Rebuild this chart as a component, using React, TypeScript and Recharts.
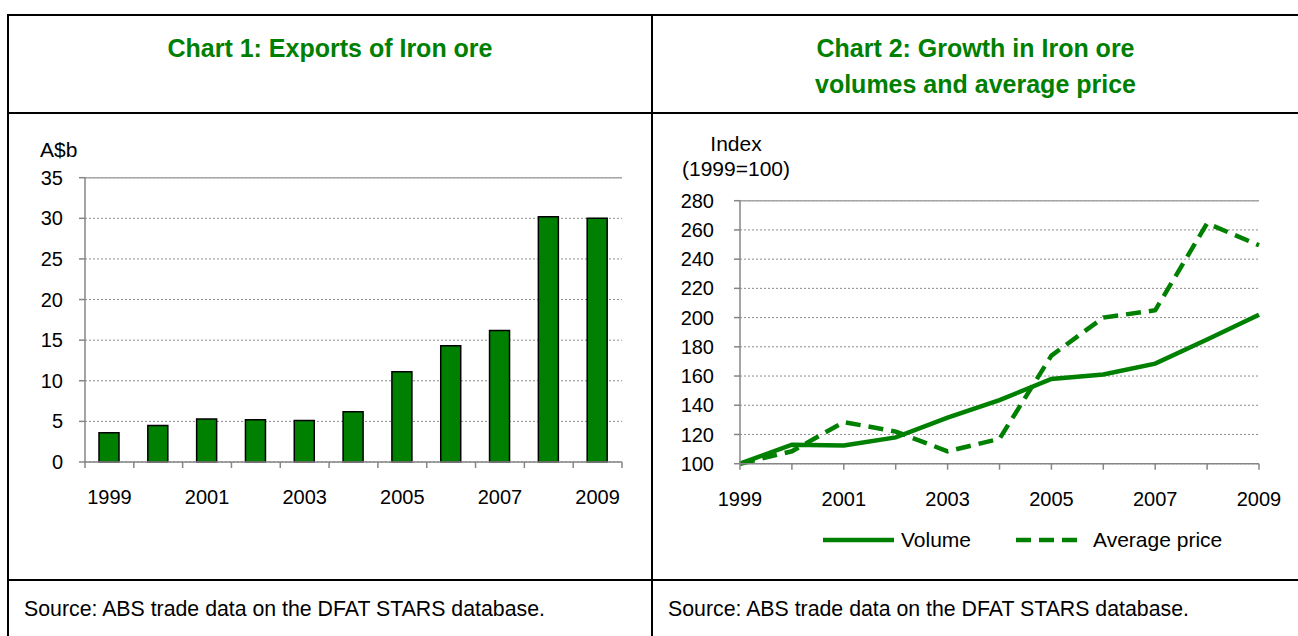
import React from "react";
import {
  BarChart,
  Bar,
  LineChart,
  Line,
  XAxis,
  YAxis,
  CartesianGrid,
  ReferenceLine,
  Legend,
} from "recharts";

const years = [1999, 2000, 2001, 2002, 2003, 2004, 2005, 2006, 2007, 2008, 2009];
const exportsValues = [3.6, 4.5, 5.3, 5.2, 5.1, 6.2, 11.1, 14.3, 16.2, 30.2, 30.0];
const volumeIndex = [100, 113, 112.5, 118, 131.5, 143.5, 158, 161, 168.5, 185, 202];
const priceIndex = [100, 108.5, 128.5, 122, 108.5, 117, 174, 200, 205, 264.5, 249.5];

const exportTicks = [0, 5, 10, 15, 20, 25, 30, 35];
const indexTicks = [100, 120, 140, 160, 180, 200, 220, 240, 260, 280];

const chart1Title = "Chart 1: Exports of Iron ore";
const chart2TitleLines = ["Chart 2: Growth in Iron ore", "volumes and average price"];
const sourceText = "Source: ABS trade data on the DFAT STARS database.";
const unit1 = "A$b";
const unit2Lines = ["Index", "(1999=100)"];
const seriesNames = ["Volume", "Average price"];
const seriesDash = [undefined, "15 8"];

const GREEN = "#008000";
const AXIS = "#868686";
const GRID = "#8c8c8c";
const FONT = "'Liberation Sans', Arial, sans-serif";

const barData = years.map((y, i) => ({ year: y, value: exportsValues[i] }));
const lineData = years.map((y, i) => ({ year: y, volume: volumeIndex[i], price: priceIndex[i] }));
const barXTicks: number[] = [];
years.forEach((y) => {
  barXTicks.push(y - 0.5);
  barXTicks.push(y);
});
barXTicks.push(years[years.length - 1] + 0.5);

const tickFont = { fontSize: 20, fill: "#000", fontFamily: FONT };

const BarXTick = (props: any) => {
  const { x, y, payload } = props;
  const v = payload.value;
  if (!Number.isInteger(v)) {
    return <line x1={x} x2={x} y1={y} y2={y + 6} stroke={AXIS} strokeWidth={1.5} />;
  }
  if ((v - years[0]) % 2 !== 0) return <g />;
  return (
    <text x={x} y={y + 35} textAnchor="middle" dominantBaseline="central" {...tickFont}>
      {v}
    </text>
  );
};

const LineXTick = (props: any) => {
  const { x, y, payload } = props;
  const v = payload.value;
  if ((v - years[0]) % 2 !== 0) return <g />;
  return (
    <text x={x} y={y + 29.5} textAnchor="middle" dominantBaseline="central" {...tickFont}>
      {v}
    </text>
  );
};

const LegendContent = (props: any) => {
  const payload = [...(props.payload || [])].sort(
    (a: any, b: any) => seriesNames.indexOf(a.value) - seriesNames.indexOf(b.value)
  );
  return (
    <div style={{ display: "flex", alignItems: "center", height: 24, fontFamily: FONT, fontSize: 21, color: "#000" }}>
      {payload.map((p: any, i: number) => {
        const idx = seriesNames.indexOf(p.value);
        const w = idx === 0 ? 71 : 63;
        return (
          <div key={i} style={{ display: "flex", alignItems: "center", marginLeft: i === 0 ? 0 : 45 }}>
            <svg width={w} height={10} style={{ display: "block" }}>
              <line x1={0} x2={w} y1={5} y2={5} stroke={GREEN} strokeWidth={4.5} strokeDasharray={seriesDash[idx]} />
            </svg>
            <span style={{ marginLeft: idx === 0 ? 7 : 14, whiteSpace: "nowrap" }}>{p.value}</span>
          </div>
        );
      })}
    </div>
  );
};

const hLine = (left: number, top: number, width: number) => (
  <div style={{ position: "absolute", left, top, width, height: 2, background: "#000" }} />
);
const vLine = (left: number, top: number, height: number) => (
  <div style={{ position: "absolute", left, top, width: 2, height, background: "#000" }} />
);

const titleStyle: React.CSSProperties = {
  position: "absolute",
  top: 30,
  textAlign: "center",
  color: GREEN,
  fontWeight: "bold",
  fontSize: 25,
  lineHeight: "36px",
  whiteSpace: "nowrap",
};

export default function App() {
  return (
    <div
      style={{
        position: "absolute",
        left: 0,
        top: 0,
        width: 1298,
        height: 636,
        overflow: "hidden",
        background: "#fff",
        fontFamily: FONT,
      }}
    >
      {hLine(7, 14, 1291)}
      {hLine(7, 112, 1291)}
      {hLine(7, 579, 1291)}
      {vLine(7, 14, 622)}
      {vLine(651, 14, 622)}

      <div style={{ ...titleStyle, left: 9, width: 642 }}>{chart1Title}</div>
      <div style={{ ...titleStyle, left: 653, width: 645 }}>
        {chart2TitleLines.map((t, i) => (
          <div key={i}>{t}</div>
        ))}
      </div>

      <div style={{ position: "absolute", left: 40, top: 138, fontSize: 21, lineHeight: "24px", color: "#000" }}>
        {unit1}
      </div>
      <div
        style={{
          position: "absolute",
          left: 676,
          top: 131,
          width: 120,
          textAlign: "center",
          fontSize: 21,
          lineHeight: "25px",
          color: "#000",
        }}
      >
        {unit2Lines.map((t, i) => (
          <div key={i}>{t}</div>
        ))}
      </div>

      <div style={{ position: "absolute", left: 0, top: 120 }}>
        <BarChart
          width={650}
          height={400}
          data={barData}
          margin={{ top: 57.7, right: 28, bottom: 18, left: 25 }}
        >
          <CartesianGrid vertical={false} stroke={GRID} strokeDasharray="2 2" />
          <XAxis
            dataKey="year"
            type="number"
            domain={[years[0] - 0.5, years[years.length - 1] + 0.5]}
            ticks={barXTicks}
            interval={0}
            tickSize={0}
            tickMargin={0}
            tickLine={false}
            axisLine={{ stroke: AXIS, strokeWidth: 1.5 }}
            tick={<BarXTick />}
            height={40}
          />
          <YAxis
            domain={[0, 35]}
            ticks={exportTicks}
            interval={0}
            tickSize={6}
            tickMargin={16}
            axisLine={{ stroke: AXIS, strokeWidth: 1.5 }}
            tickLine={{ stroke: AXIS, strokeWidth: 1.5 }}
            tick={tickFont}
            width={60}
          />
          <YAxis
            yAxisId="r"
            orientation="right"
            domain={[0, 35]}
            width={0}
            tick={false}
            tickLine={false}
            axisLine={{ stroke: "#a6a6a6", strokeWidth: 1.5 }}
          />
          <ReferenceLine y={35} stroke="#a6a6a6" strokeWidth={1.5} />
          <Bar
            dataKey="value"
            fill={GREEN}
            stroke="#000"
            strokeWidth={1.5}
            barSize={20}
            isAnimationActive={false}
          />
        </BarChart>
      </div>

      <div style={{ position: "absolute", left: 652, top: 120 }}>
        <LineChart
          width={646}
          height={450}
          data={lineData}
          margin={{ top: 80.7, right: 39, bottom: 66.3, left: 28 }}
        >
          <CartesianGrid vertical={false} stroke={GRID} strokeDasharray="2 2" />
          <XAxis
            dataKey="year"
            type="number"
            domain={[years[0], years[years.length - 1]]}
            ticks={years}
            interval={0}
            tickSize={6}
            tickMargin={0}
            tickLine={{ stroke: AXIS, strokeWidth: 1.5 }}
            axisLine={{ stroke: AXIS, strokeWidth: 1.5 }}
            tick={<LineXTick />}
            height={40}
          />
          <YAxis
            domain={[100, 280]}
            ticks={indexTicks}
            interval={0}
            tickSize={6}
            tickMargin={20}
            axisLine={{ stroke: AXIS, strokeWidth: 1.5 }}
            tickLine={{ stroke: AXIS, strokeWidth: 1.5 }}
            tick={tickFont}
            width={60}
          />
          <YAxis
            yAxisId="r"
            orientation="right"
            domain={[100, 280]}
            width={0}
            tick={false}
            tickLine={false}
            axisLine={{ stroke: "#a6a6a6", strokeWidth: 1.5 }}
          />
          <ReferenceLine y={280} stroke="#a6a6a6" strokeWidth={1.5} />
          <Line
            type="linear"
            dataKey="volume"
            name={seriesNames[0]}
            stroke={GREEN}
            strokeWidth={4.5}
            strokeDasharray={seriesDash[0]}
            dot={false}
            activeDot={false}
            isAnimationActive={false}
          />
          <Line
            type="linear"
            dataKey="price"
            name={seriesNames[1]}
            stroke={GREEN}
            strokeWidth={4.5}
            strokeDasharray={seriesDash[1]}
            dot={false}
            activeDot={false}
            isAnimationActive={false}
          />
          <Legend
            verticalAlign="middle"
            align="center"
            layout="horizontal"
            content={<LegendContent />}
            wrapperStyle={{ position: "absolute", top: 408, left: 171, width: 460 }}
          />
        </LineChart>
      </div>

      <div style={{ position: "absolute", left: 24, top: 597, fontSize: 21.3, lineHeight: "24px", color: "#000", whiteSpace: "nowrap" }}>
        {sourceText}
      </div>
      <div style={{ position: "absolute", left: 668, top: 597, fontSize: 21.3, lineHeight: "24px", color: "#000", whiteSpace: "nowrap" }}>
        {sourceText}
      </div>
    </div>
  );
}
